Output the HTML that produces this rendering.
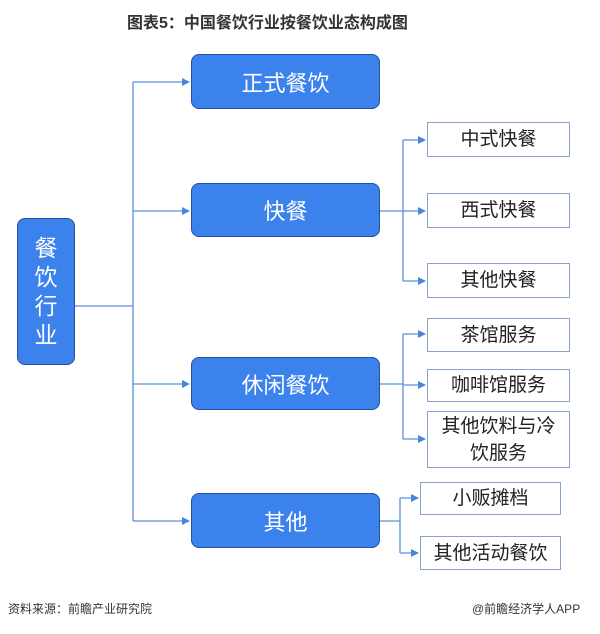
<!DOCTYPE html>
<html><head><meta charset="utf-8"><style>
body{margin:0;width:600px;height:634px;background:#fff;position:relative;overflow:hidden;font-family:"Liberation Sans","Noto Sans CJK SC",sans-serif}
.t{position:absolute;left:127px;top:9px;font-weight:bold;font-size:16px;color:#333;white-space:nowrap}
.b{position:absolute;background:#3b82ec;border:1.5px solid #24509e;border-radius:8px;color:#fff;display:flex;align-items:center;justify-content:center;font-size:22px;box-sizing:border-box}
.w{position:absolute;background:#fff;border:1.5px solid #8ba2c8;color:#222;display:flex;align-items:center;justify-content:center;font-size:19px;box-sizing:border-box;text-align:center;line-height:27px}
svg{position:absolute;left:0;top:0}
.f{position:absolute;top:600px;font-size:12px;color:#333}
</style></head><body>
<div class="t">图表5：中国餐饮行业按餐饮业态构成图</div>
<svg width="600" height="634">
<defs><marker id="a" markerWidth="8" markerHeight="8" refX="7" refY="4" orient="auto" markerUnits="userSpaceOnUse"><path d="M0,0L8,4L0,8z" fill="#4a86d8"/></marker></defs>
<g stroke="#5a90dc" stroke-width="1.3" fill="none">
<line x1="75" y1="306" x2="133" y2="306"/>
<line x1="133" y1="82" x2="133" y2="521"/>
<line x1="133" y1="82" x2="189" y2="82" marker-end="url(#a)"/>
<line x1="133" y1="211" x2="189" y2="211" marker-end="url(#a)"/>
<line x1="133" y1="384" x2="189" y2="384" marker-end="url(#a)"/>
<line x1="133" y1="521" x2="189" y2="521" marker-end="url(#a)"/>
<line x1="380" y1="211" x2="403" y2="211"/>
<line x1="403" y1="140" x2="403" y2="281"/>
<line x1="403" y1="140" x2="425" y2="140" marker-end="url(#a)"/>
<line x1="403" y1="211" x2="425" y2="211" marker-end="url(#a)"/>
<line x1="403" y1="281" x2="425" y2="281" marker-end="url(#a)"/>
<line x1="380" y1="384" x2="403" y2="384"/>
<line x1="403" y1="334" x2="403" y2="439"/>
<line x1="403" y1="334" x2="425" y2="334" marker-end="url(#a)"/>
<line x1="403" y1="385" x2="425" y2="385" marker-end="url(#a)"/>
<line x1="403" y1="439" x2="425" y2="439" marker-end="url(#a)"/>
<line x1="380" y1="521" x2="400" y2="521"/>
<line x1="400" y1="498" x2="400" y2="553"/>
<line x1="400" y1="498" x2="418" y2="498" marker-end="url(#a)"/>
<line x1="400" y1="553" x2="418" y2="553" marker-end="url(#a)"/>
</g></svg>
<div class="b" style="left:17px;top:218px;width:58px;height:147px;flex-direction:column;line-height:29px;font-size:23px">餐<br>饮<br>行<br>业</div>
<div class="b" style="left:191px;top:54px;width:189px;height:55px">正式餐饮</div>
<div class="b" style="left:191px;top:183px;width:189px;height:54px">快餐</div>
<div class="b" style="left:191px;top:357px;width:189px;height:53px">休闲餐饮</div>
<div class="b" style="left:191px;top:493px;width:189px;height:55px">其他</div>
<div class="w" style="left:427px;top:122px;width:143px;height:35px">中式快餐</div>
<div class="w" style="left:427px;top:193px;width:143px;height:35px">西式快餐</div>
<div class="w" style="left:427px;top:263px;width:143px;height:35px">其他快餐</div>
<div class="w" style="left:427px;top:318px;width:143px;height:34px">茶馆服务</div>
<div class="w" style="left:427px;top:369px;width:143px;height:33px">咖啡馆服务</div>
<div class="w" style="left:427px;top:411px;width:143px;height:57px">其他饮料与冷<br>饮服务</div>
<div class="w" style="left:420px;top:482px;width:141px;height:33px">小贩摊档</div>
<div class="w" style="left:420px;top:536px;width:141px;height:34px">其他活动餐饮</div>
<div class="f" style="left:8px">资料来源：前瞻产业研究院</div>
<div class="f" style="left:472px">@前瞻经济学人APP</div>
</body></html>
